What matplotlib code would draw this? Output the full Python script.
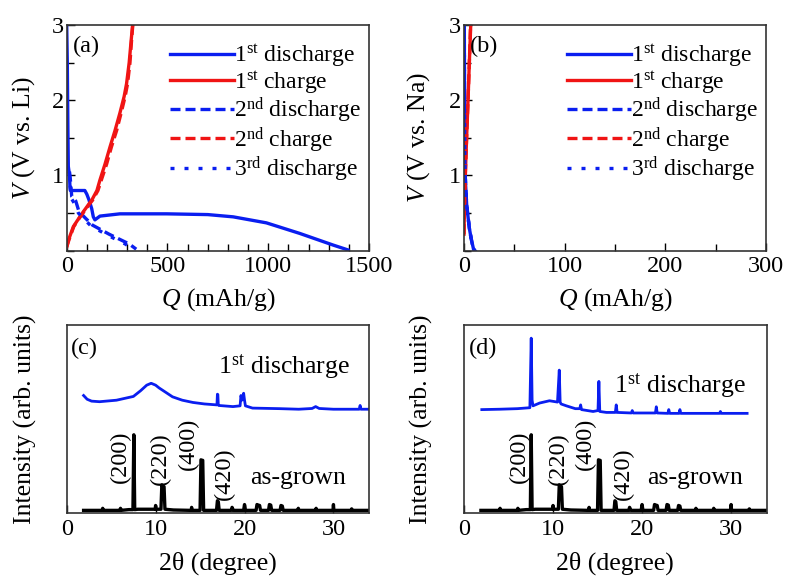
import matplotlib
matplotlib.use("Agg")
import matplotlib.pyplot as plt
from matplotlib.ticker import MultipleLocator, NullLocator

plt.rcParams['font.family'] = ['Liberation Serif', 'DejaVu Serif']
plt.rcParams['mathtext.fontset'] = 'custom'
plt.rcParams['mathtext.rm'] = 'Liberation Serif'
plt.rcParams['mathtext.it'] = 'Liberation Serif:italic'

# ---------------- Panel (a): Li cell ----------------
a_d1_Q = [0, 3, 6, 8, 14, 16, 18, 40, 90, 100, 110, 124, 132, 140, 165, 264, 496, 700, 826, 991, 1156, 1322, 1396]
a_d1_V = [3.0, 2.5, 1.6, 1.12, 1.0, 0.85, 0.80, 0.80, 0.80, 0.75, 0.68, 0.56, 0.45, 0.41, 0.46, 0.49, 0.49, 0.48, 0.45, 0.37, 0.23, 0.075, 0.01]
a_c1_Q = [0, 10, 33, 60, 83, 110, 124, 150, 165, 190, 215, 240, 264, 285, 297, 310, 320, 327]
a_c1_V = [0.05, 0.15, 0.32, 0.43, 0.52, 0.62, 0.67, 0.80, 0.94, 1.15, 1.38, 1.60, 1.83, 2.05, 2.22, 2.50, 2.80, 3.0]
a_d2_Q = [14, 18, 25, 45, 61, 94, 128, 210, 310, 345]
a_d2_V = [1.05, 0.95, 0.72, 0.66, 0.52, 0.43, 0.34, 0.22, 0.09, 0.02]
a_c2_Q = [0, 12, 35, 62, 86, 113, 128, 155, 172, 198, 222, 248, 270, 290, 302, 314, 322, 328]
a_c2_V = [0.05, 0.15, 0.32, 0.43, 0.52, 0.62, 0.67, 0.80, 0.94, 1.15, 1.38, 1.60, 1.83, 2.05, 2.22, 2.50, 2.80, 3.0]
a_d3_Q = [12, 16, 22, 40, 58, 90, 120, 200, 290, 330]
a_d3_V = [1.05, 0.92, 0.70, 0.62, 0.50, 0.41, 0.33, 0.21, 0.09, 0.02]

# ---------------- Panel (b): Na cell ----------------
b_d1_Q = [0.3, 0.5, 0.8, 1.5, 2.7, 4.0, 5.3, 7.0, 9.3, 11]
b_d1_V = [3.0, 2.0, 1.2, 0.9, 0.6, 0.45, 0.3, 0.17, 0.03, 0.0]
b_c1_Q = [0, 0.5, 1.3, 2.6, 4.0, 5.3, 6.7]
b_c1_V = [0.22, 0.6, 1.0, 1.5, 2.0, 2.5, 3.0]
b_d2_Q = [0.3, 0.5, 0.8, 1.5, 2.7, 4.0, 5.3, 7.0, 9.0, 10.5]
b_d2_V = [3.0, 2.0, 1.2, 0.9, 0.6, 0.45, 0.3, 0.17, 0.03, 0.0]
b_c2_Q = [0, 0.5, 1.3, 2.6, 4.0, 5.3, 6.5]
b_c2_V = [0.22, 0.6, 1.0, 1.5, 2.0, 2.5, 3.0]
b_d3_Q = [0.3, 0.5, 0.8, 1.5, 2.7, 4.0, 5.3, 7.0, 9.0, 10.5]
b_d3_V = [3.0, 2.0, 1.2, 0.9, 0.6, 0.45, 0.3, 0.17, 0.03, 0.0]

# ---------------- XRD: as-grown (shared) ----------------
ag_2t = [1.9, 4.0, 4.05, 4.1, 6.0, 6.05, 6.1, 7.0, 7.45, 7.55, 7.65, 8.0, 9.95, 10.0, 10.05,
         10.6, 10.7, 10.8, 10.95, 11.05, 12.0, 14.0, 14.05, 14.1, 15.0, 15.1, 15.2, 15.3, 15.4,
         16.85, 16.95, 17.05, 17.15, 18.5, 18.6, 18.75, 19.9, 20.0, 20.1, 21.3, 21.4, 21.55, 21.7, 21.8,
         22.7, 22.8, 22.95, 23.05, 24.0, 24.1, 24.25, 24.35, 26.0, 26.05, 26.1, 28.0, 28.05, 28.1,
         29.95, 30.0, 30.05, 32.0, 32.05, 32.1, 34.0]
ag_I = [0.014, 0.014, 0.025, 0.014, 0.014, 0.025, 0.014, 0.018, 0.018, 0.416, 0.018, 0.02, 0.02, 0.04, 0.02,
        0.02, 0.15, 0.14, 0.14, 0.02, 0.016, 0.014, 0.03, 0.014, 0.014, 0.283, 0.28, 0.28, 0.014,
        0.014, 0.065, 0.06, 0.014, 0.014, 0.03, 0.014, 0.014, 0.045, 0.014, 0.014, 0.045, 0.042, 0.04, 0.014,
        0.014, 0.045, 0.042, 0.014, 0.014, 0.04, 0.037, 0.014, 0.014, 0.025, 0.014, 0.014, 0.025, 0.014,
        0.014, 0.045, 0.014, 0.014, 0.022, 0.014, 0.014]

# ---------------- XRD: 1st discharge, Li (c) ----------------
c_2t = [1.9, 2.3, 2.8, 3.7, 5.6, 7.5, 8.3, 9.0, 9.5, 10.0, 10.4, 11.2, 11.9, 13.0, 14.2, 15.5,
        16.9, 16.95, 17.0, 17.05, 17.1, 18.7, 19.5, 19.6, 19.7, 19.8, 19.9, 20.0, 20.1, 20.9,
        24.0, 26.1, 27.6, 28.0, 28.4, 30.0, 32.9, 33.0, 33.1, 34.0]
c_I = [0.625, 0.605, 0.595, 0.592, 0.60, 0.62, 0.65, 0.68, 0.69, 0.68, 0.665, 0.64, 0.618, 0.60, 0.588, 0.58,
       0.575, 0.632, 0.63, 0.575, 0.572, 0.566, 0.57, 0.625, 0.60, 0.61, 0.637, 0.60, 0.57, 0.558,
       0.555, 0.552, 0.556, 0.566, 0.556, 0.552, 0.552, 0.572, 0.552, 0.552]

# ---------------- XRD: 1st discharge, Na (d) ----------------
d_2t = [2.0, 4.0, 6.0, 7.4, 7.55, 7.65, 7.75, 8.5, 9.6, 10.5, 10.7, 10.8, 10.9, 11.5, 12.5,
        13.0, 13.1, 13.2, 14.5, 15.05, 15.15, 15.25, 16.0, 17.0, 17.1, 17.2, 18.8, 18.9, 19.0,
        21.5, 21.6, 21.7, 22.9, 23.0, 23.1, 24.15, 24.25, 24.35, 28.7, 28.8, 28.9, 31.8]
d_I = [0.55, 0.552, 0.555, 0.56, 0.93, 0.60, 0.57, 0.585, 0.597, 0.59, 0.76, 0.59, 0.58, 0.57, 0.555,
       0.555, 0.575, 0.55, 0.54, 0.545, 0.70, 0.54, 0.535, 0.535, 0.575, 0.535, 0.532, 0.545, 0.532,
       0.532, 0.565, 0.532, 0.53, 0.55, 0.53, 0.53, 0.55, 0.53, 0.53, 0.54, 0.53, 0.53]

hkl_labels = ['(200)', '(220)', '(400)', '(420)']

BLUE = '#0a1ef0'
RED = '#f01414'
LW = 2.4

legend_labels = ['1$^{\\rm st}$ discharge', '1$^{\\rm st}$ charge', '2$^{\\rm nd}$ discharge',
                 '2$^{\\rm nd}$ charge', '3$^{\\rm rd}$ discharge']

fig = plt.figure(figsize=(7.85, 5.76), dpi=100)
W, H = 785, 576

def add_ax(l, t, r, b):
    return fig.add_axes([l / W, 1 - b / H, (r - l) / W, (b - t) / H])

ax_a = add_ax(66.7, 25, 369, 250.7)
ax_b = add_ax(464, 25, 766, 250.7)
ax_c = add_ax(66.7, 325, 369, 513)
ax_d = add_ax(464, 325, 766.7, 513)

def style(ax):
    ax.tick_params(which='both', direction='in', top=False, right=False, labelsize=17.5)
    ax.tick_params(axis='x', pad=4)
    ax.tick_params(axis='y', pad=2)
    ax.tick_params(which='major', length=6, width=1)
    ax.tick_params(which='minor', length=5, width=1)
    for s in ax.spines.values():
        s.set_linewidth(1.2)
        s.set_color('#333333')

def echem(ax, curves, xmax, xmaj, xmin, ylabel, tag, ylab_x):
    (d1q, d1v), (c1q, c1v), (d2q, d2v), (c2q, c2v), (d3q, d3v) = curves
    ax.plot(d1q, d1v, color=BLUE, lw=LW, label=legend_labels[0])
    ax.plot(c1q, c1v, color=RED, lw=LW, label=legend_labels[1])
    ax.plot(d2q, d2v, color=BLUE, lw=LW, ls=(0, (3, 1.5)), label=legend_labels[2])
    ax.plot(c2q, c2v, color=RED, lw=LW, ls=(0, (3, 1.5)), label=legend_labels[3])
    ax.plot(d3q, d3v, color=BLUE, lw=LW, ls=(0, (1.2, 3)), label=legend_labels[4])
    ax.set_xlim(0, xmax)
    ax.set_ylim(0, 3)
    ax.xaxis.set_major_locator(MultipleLocator(xmaj))
    ax.xaxis.set_minor_locator(MultipleLocator(xmin))
    ax.set_yticks([1, 2, 3])
    ax.yaxis.set_minor_locator(MultipleLocator(0.5))
    style(ax)
    ax.set_xlabel('$Q$ (mAh/g)', fontsize=18.5)
    ax.xaxis.set_label_coords(0.5, -0.155)
    ax.set_ylabel(ylabel, fontsize=18.5)
    ax.yaxis.set_label_coords(ylab_x, 0.5)
    ax.text(0.02, 0.95, tag, transform=ax.transAxes, fontsize=17.5, va='top', ha='left')
    ax.legend(loc='upper right', bbox_to_anchor=(1.02, 0.985), frameon=False, fontsize=17,
              handlelength=2.7, handletextpad=0.0, labelspacing=0.0, borderaxespad=0.2)

echem(ax_a, [(a_d1_Q, a_d1_V), (a_c1_Q, a_c1_V), (a_d2_Q, a_d2_V), (a_c2_Q, a_c2_V), (a_d3_Q, a_d3_V)],
      1500, 500, 100, '$V$ (V vs. Li)', '(a)', -0.098)
echem(ax_b, [(b_d1_Q, b_d1_V), (b_c1_Q, b_c1_V), (b_d2_Q, b_d2_V), (b_c2_Q, b_c2_V), (b_d3_Q, b_d3_V)],
      300, 100, 50, '$V$ (V vs. Na)', '(b)', -0.106)

def xrd(ax, dx, dy, tag, label_x, label_y, disch_x, disch_y, ylab_x):
    ax.plot(dx, dy, color=BLUE, lw=2.0)
    ax.plot(ag_2t, ag_I, color='black', lw=2.4)
    ax.set_xlim(0, 34)
    ax.set_ylim(0, 1)
    ax.xaxis.set_major_locator(MultipleLocator(10))
    ax.yaxis.set_major_locator(NullLocator())
    style(ax)
    ax.set_xlabel('2θ (degree)', fontsize=18.5)
    ax.xaxis.set_label_coords(0.5, -0.205)
    ax.set_ylabel('Intensity (arb. units)', fontsize=18.5)
    ax.yaxis.set_label_coords(ylab_x, 0.5)
    ax.text(0.015, 0.93, tag, transform=ax.transAxes, fontsize=17.5, va='top', ha='left')
    for lab, x, y in zip(hkl_labels, label_x, label_y):
        ax.text(x, y, lab, rotation=90, fontsize=17.5, ha='center', va='center')
    ax.text(20.6, 0.185, 'as-grown', fontsize=18.5, ha='left', va='center')
    ax.text(disch_x, disch_y, '1$^{\\rm st}$ discharge', fontsize=18.5, ha='left', va='center')

xrd(ax_c, c_2t, c_I, '(c)', [6.0, 10.5, 13.7, 17.7], [0.30, 0.29, 0.37, 0.21], 17.0, 0.78, -0.098)
xrd(ax_d, d_2t, d_I, '(d)', [6.2, 10.6, 13.6, 17.9], [0.30, 0.29, 0.37, 0.21], 16.9, 0.68, -0.103)

fig.savefig('out.png', dpi=100)
